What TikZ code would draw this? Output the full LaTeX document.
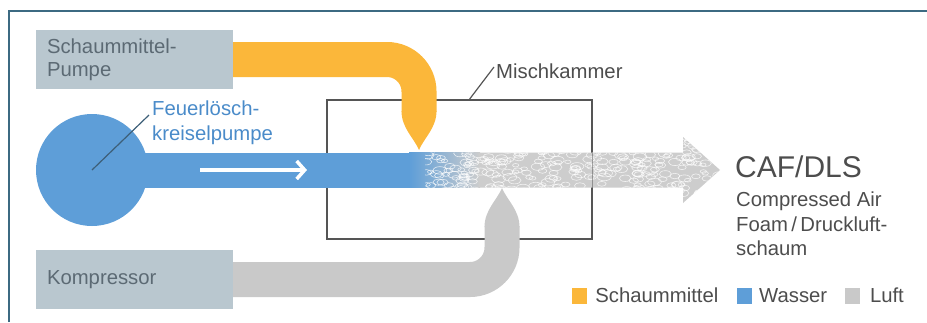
\documentclass[tikz,border=0pt]{standalone}
\usepackage{fontspec}
\setmainfont{Liberation Sans}
\usepackage{tikz}
\usetikzlibrary{positioning}
\usetikzlibrary{arrows.meta}
\usetikzlibrary{calc}

\definecolor{frameblue}{HTML}{3C6A82}
\definecolor{unitgray}{HTML}{B9C7CF}
\definecolor{unittext}{HTML}{5C6A74}
\definecolor{schaum}{HTML}{FBB73A}
\definecolor{wasser}{HTML}{5E9ED8}
\definecolor{luft}{HTML}{C9C9C9}
\definecolor{foamgray}{HTML}{CDCDCD}
\definecolor{chamber}{HTML}{555555}
\definecolor{labelblue}{HTML}{4A8BC9}
\definecolor{leaderblue}{HTML}{3D5F78}
\definecolor{textgray}{HTML}{4D4D4D}

\begin{document}
\begin{tikzpicture}[x=1pt,y=-1pt,
            unit/.style={fill=unitgray, text=unittext, rectangle, align=left,
            text width=175pt, inner xsep=11pt, minimum height=59pt,
            font=\fontsize{20.3}{23}\selectfont},
            pipe/.style={line width=35pt},
            leader/.style={draw=leaderblue, line width=1.2pt},
            caption/.style={inner sep=0pt, align=left, font=\fontsize{20.3}{24.5}\selectfont},
            key/.style={rectangle, minimum width=15pt, minimum height=16pt, inner sep=0pt},
            droptip/.pic={\fill (-17.5,-39) -- (17.5,-39) .. controls (17.5,-22) and (5,-12) .. (0,0)
            .. controls (-5,-12) and (-17.5,-22) .. (-17.5,-39) -- cycle;}]
        \useasboundingbox (0,0) rectangle (927,322);
        \draw[frameblue, line width=2.2pt] (9,322) |- (927,11);

        \node[draw=chamber, line width=1.5pt, minimum width=265pt, minimum height=139pt] (mischkammer) at (459.5,169.5) {};
        \node[unit] (pumpe) at (134.5,59.5) {Schaummittel-\\Pumpe};
        \node[unit] (kompressor) at (134.5,279.5) {Kompressor};
        \node[circle, fill=wasser, minimum size=112pt, inner sep=0pt] (kreisel) at (92,170) {};

        \coordinate (schaumtip) at (419,150);
        \coordinate (lufttip) at (502,188);
        \coordinate (flowstart) at (200,170);
        \coordinate (flowend) at (307,170);

        % zufuhr
        \draw[pipe, schaum, rounded corners=32pt] (pumpe.east) -| ($(schaumtip)+(0,-38)$);
        \pic[schaum] at (schaumtip) {droptip};
        \draw[pipe, luft, rounded corners=32pt] (kompressor.east) -| ($(lufttip)+(0,38)$);
        \pic[luft, rotate=180] at (lufttip) {droptip};
        \draw[pipe, wasser] (kreisel.center) -- (410,170);
        \draw[white, line width=3.5pt, -{Straight Barb[length=8pt, width=18pt]}] (flowstart) -- (flowend);

        % schaum
        \shade[left color=wasser, right color=foamgray] (409,152.5) rectangle (480,187.5);
        \fill[foamgray] (479,152.5) -- (683,152.5) -- (683,137) -- (720,170) -- (683,203) -- (683,187.5) -- (479,187.5) -- cycle;
        \begin{scope}
            \clip (425,152.5) -- (683,152.5) -- (683,137) -- (720,170) -- (683,203) -- (683,187.5) -- (425,187.5) -- cycle;
            \pgfmathsetseed{7}
            \foreach \i in {1,...,380}{
                \pgfmathsetmacro\cx{425+295*rnd}
                \pgfmathsetmacro\cy{137+66*rnd}
                \pgfmathsetmacro\rx{3+4*rnd}
                \draw[white, line width=0.6pt, opacity=0.75] (\cx,\cy) ellipse ({\rx} and {0.55*\rx});
            }
        \end{scope}
        \draw[chamber, opacity=0.5, line width=1.2pt] (mischkammer.east |- 0,152.5) -- (mischkammer.east |- 0,187.5);

        % beschriftung
        \node[caption, text=labelblue, anchor=north west] (kreisellabel) at (152,101) {Feuerlösch-\\kreiselpumpe};
        \draw[leader] (kreisel.center) -- ($(kreisellabel.north west)+(-3,14)$);
        \node[caption, text=textgray, anchor=north west] (mischlabel) at (496,64) {Mischkammer};
        \draw[leader, draw=chamber] ($(mischkammer.north)+(10,0)$) -- ($(mischlabel.north west)+(-2,3)$);

        \node[inner sep=0pt, text=textgray, anchor=north west, font=\fontsize{30}{36}\selectfont] (caf) at (735,156) {CAF/DLS};
        \node[caption, text=textgray, anchor=north west] (cafinfo) at (736,192) {Compressed Air\\Foam\,/\,Druckluft-\\schaum};

        % legende
        \node[key, fill=schaum] (keyschaum) at (579.5,295.5) {};
        \node[caption, text=textgray, right=8pt of keyschaum] (txtschaum) {Schaummittel};
        \node[key, fill=wasser, right=18pt of txtschaum] (keywasser) {};
        \node[caption, text=textgray, right=7pt of keywasser] (txtwasser) {Wasser};
        \node[key, fill=luft, right=17pt of txtwasser] (keyluft) {};
        \node[caption, text=textgray, right=10pt of keyluft] (txtluft) {Luft};
    \end{tikzpicture}
\end{document}
